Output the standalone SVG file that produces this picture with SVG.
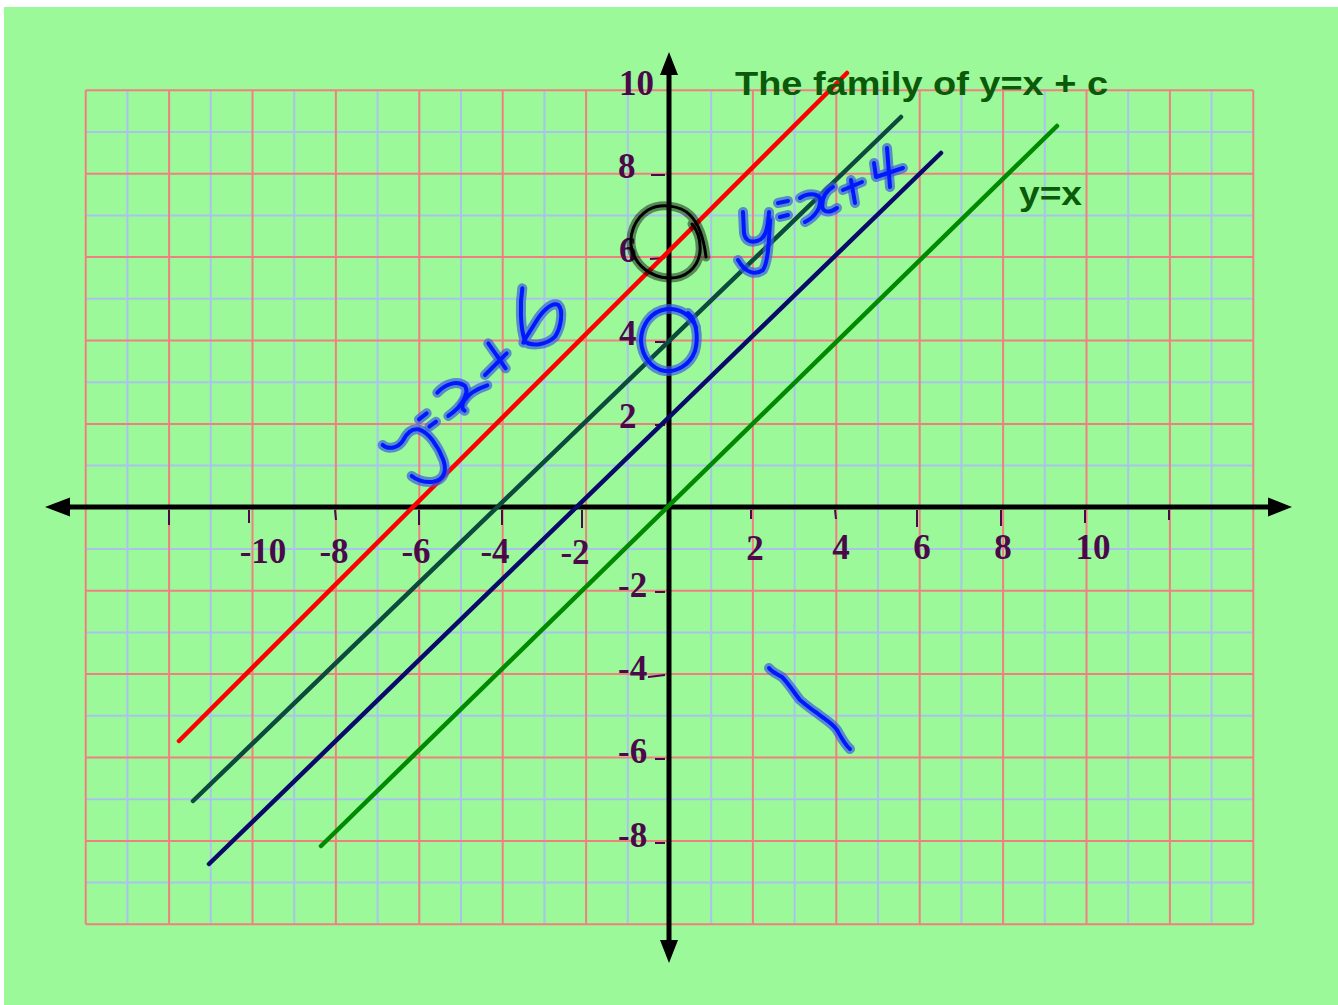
<svg xmlns="http://www.w3.org/2000/svg" width="1338" height="1005" viewBox="0 0 1338 1005">
<style>
.gb{stroke:#a8c4ec;stroke-width:2}
.gp{stroke:#f08080;stroke-width:2}
.ax{stroke:#000;stroke-width:5}
.tk{stroke:#4a0a4a;stroke-width:2}
.lb{font-family:"Liberation Serif",serif;font-weight:bold;font-size:35px;fill:#4a0a4a}
.ln{fill:none;stroke-width:4.5;stroke-linecap:round}
.hh{fill:none;stroke:#3a5ee0;stroke-opacity:0.7;stroke-width:10;stroke-linecap:round;stroke-linejoin:round}
.hc{fill:none;stroke:#0018ff;stroke-width:4;stroke-linecap:round;stroke-linejoin:round}
.hhz{fill:none;stroke:#3a5ee0;stroke-opacity:0.7;stroke-width:30;stroke-linecap:round;stroke-linejoin:round}
.hcz{fill:none;stroke:#0018ff;stroke-width:12;stroke-linecap:round;stroke-linejoin:round}
.tt{font-family:"Liberation Sans",Arial,sans-serif;font-weight:bold;fill:#0a5a0a}
</style>
<rect x="0" y="0" width="1338" height="1005" fill="#ffffff"/>
<rect x="4" y="7" width="1334" height="998" fill="#9cf99a"/>
<g id="grid">
<g class="gb">
<line x1="127.4" y1="90.3" x2="127.4" y2="924.3"/><line x1="210.8" y1="90.3" x2="210.8" y2="924.3"/><line x1="294.2" y1="90.3" x2="294.2" y2="924.3"/><line x1="377.6" y1="90.3" x2="377.6" y2="924.3"/><line x1="461" y1="90.3" x2="461" y2="924.3"/><line x1="544.4" y1="90.3" x2="544.4" y2="924.3"/><line x1="627.8" y1="90.3" x2="627.8" y2="924.3"/><line x1="711.2" y1="90.3" x2="711.2" y2="924.3"/><line x1="794.6" y1="90.3" x2="794.6" y2="924.3"/><line x1="878" y1="90.3" x2="878" y2="924.3"/><line x1="961.4" y1="90.3" x2="961.4" y2="924.3"/><line x1="1044.8" y1="90.3" x2="1044.8" y2="924.3"/><line x1="1128.2" y1="90.3" x2="1128.2" y2="924.3"/><line x1="1211.6" y1="90.3" x2="1211.6" y2="924.3"/>
<line x1="85.7" y1="132" x2="1253.3" y2="132"/><line x1="85.7" y1="215.4" x2="1253.3" y2="215.4"/><line x1="85.7" y1="298.8" x2="1253.3" y2="298.8"/><line x1="85.7" y1="382.2" x2="1253.3" y2="382.2"/><line x1="85.7" y1="465.6" x2="1253.3" y2="465.6"/><line x1="85.7" y1="549" x2="1253.3" y2="549"/><line x1="85.7" y1="632.4" x2="1253.3" y2="632.4"/><line x1="85.7" y1="715.8" x2="1253.3" y2="715.8"/><line x1="85.7" y1="799.2" x2="1253.3" y2="799.2"/><line x1="85.7" y1="882.6" x2="1253.3" y2="882.6"/>
</g>
<g class="gp">
<line x1="85.7" y1="90.3" x2="85.7" y2="924.3"/><line x1="169.1" y1="90.3" x2="169.1" y2="924.3"/><line x1="252.5" y1="90.3" x2="252.5" y2="924.3"/><line x1="335.9" y1="90.3" x2="335.9" y2="924.3"/><line x1="419.3" y1="90.3" x2="419.3" y2="924.3"/><line x1="502.7" y1="90.3" x2="502.7" y2="924.3"/><line x1="586.1" y1="90.3" x2="586.1" y2="924.3"/><line x1="669.5" y1="90.3" x2="669.5" y2="924.3"/><line x1="752.9" y1="90.3" x2="752.9" y2="924.3"/><line x1="836.3" y1="90.3" x2="836.3" y2="924.3"/><line x1="919.7" y1="90.3" x2="919.7" y2="924.3"/><line x1="1003.1" y1="90.3" x2="1003.1" y2="924.3"/><line x1="1086.5" y1="90.3" x2="1086.5" y2="924.3"/><line x1="1169.9" y1="90.3" x2="1169.9" y2="924.3"/><line x1="1253.3" y1="90.3" x2="1253.3" y2="924.3"/>
<line x1="85.7" y1="90.3" x2="1253.3" y2="90.3"/><line x1="85.7" y1="173.7" x2="1253.3" y2="173.7"/><line x1="85.7" y1="257.1" x2="1253.3" y2="257.1"/><line x1="85.7" y1="340.5" x2="1253.3" y2="340.5"/><line x1="85.7" y1="423.9" x2="1253.3" y2="423.9"/><line x1="85.7" y1="507.3" x2="1253.3" y2="507.3"/><line x1="85.7" y1="590.7" x2="1253.3" y2="590.7"/><line x1="85.7" y1="674.1" x2="1253.3" y2="674.1"/><line x1="85.7" y1="757.5" x2="1253.3" y2="757.5"/><line x1="85.7" y1="840.9" x2="1253.3" y2="840.9"/><line x1="85.7" y1="924.3" x2="1253.3" y2="924.3"/>
</g>
</g>
<g id="ticks" class="tk">
<line x1="169" y1="510" x2="169" y2="525"/><line x1="249" y1="510" x2="249" y2="523"/><line x1="335" y1="510" x2="336" y2="520"/><line x1="419" y1="510" x2="419" y2="525"/><line x1="502" y1="510" x2="502" y2="525"/><line x1="582" y1="510" x2="582" y2="528"/><line x1="751" y1="510" x2="751" y2="519"/><line x1="835" y1="510" x2="836" y2="519"/><line x1="917" y1="510" x2="917" y2="527"/><line x1="1001" y1="510" x2="1001" y2="526"/><line x1="1085" y1="510" x2="1085" y2="523"/><line x1="1169" y1="510" x2="1169" y2="520"/>
<line x1="651" y1="175" x2="665" y2="175"/><line x1="650" y1="259" x2="665" y2="258"/><line x1="655" y1="342" x2="665" y2="342"/><line x1="655" y1="425" x2="665" y2="425"/><line x1="655" y1="592" x2="665" y2="592"/><line x1="648" y1="677" x2="665" y2="675"/><line x1="655" y1="759" x2="665" y2="759"/><line x1="655" y1="843" x2="665" y2="843"/>
</g>
<g id="axes">
<line class="ax" x1="62" y1="507" x2="1275" y2="507"/>
<polygon points="45,507 70,497.5 70,516.5"/>
<polygon points="1292,507 1268,497.5 1268,516.5"/>
<line class="ax" x1="669" y1="70" x2="669" y2="945"/>
<polygon points="669,52 660,75 678,75"/>
<polygon points="669,963 660,940 678,940"/>
</g>
<g id="labels" class="lb">
<text x="263" y="563" text-anchor="middle">-10</text>
<text x="334" y="563" text-anchor="middle">-8</text>
<text x="416" y="563" text-anchor="middle">-6</text>
<text x="495" y="563" text-anchor="middle">-4</text>
<text x="575" y="564" text-anchor="middle">-2</text>
<text x="755" y="560" text-anchor="middle">2</text>
<text x="841" y="559" text-anchor="middle">4</text>
<text x="922" y="559" text-anchor="middle">6</text>
<text x="1003" y="559" text-anchor="middle">8</text>
<text x="1093" y="559" text-anchor="middle">10</text>
<text x="619" y="95">10</text>
<text x="618" y="178">8</text>
<text x="619" y="262">6</text>
<text x="619" y="345">4</text>
<text x="619" y="428">2</text>
<text x="618" y="597">-2</text>
<text x="618" y="680">-4</text>
<text x="618" y="763">-6</text>
<text x="618" y="847">-8</text>
</g>
<g id="lines">
<line class="ln" stroke="#ff0000" x1="179" y1="741" x2="847" y2="73"/>
<line class="ln" stroke="#0b4a3c" x1="193" y1="801" x2="901" y2="117"/>
<line class="ln" stroke="#0a0a6a" x1="209" y1="864" x2="941" y2="153"/>
<line class="ln" stroke="#008a00" x1="321" y1="846" x2="1057" y2="126"/>
</g>
<g id="title">
<text class="tt" x="735" y="95" font-size="34" textLength="373" lengthAdjust="spacingAndGlyphs">The family of y=x + c</text>
<text class="tt" x="1019" y="205" font-size="34" textLength="63" lengthAdjust="spacingAndGlyphs">y=x</text>
</g>
<g id="circle6">
<path d="M706,257 C704,240 700,225 690,215 C680,205 660,203 648,210 C635,218 628,235 632,250 C636,265 650,277 668,278 C685,279 698,268 700,252 C701,240 697,230 692,224" fill="none" stroke="#000" stroke-opacity="0.45" stroke-width="9" stroke-linecap="round"/>
<path d="M706,257 C704,240 700,225 690,215 C680,205 660,203 648,210 C635,218 628,235 632,250 C636,265 650,277 668,278 C685,279 698,268 700,252 C701,240 697,230 692,224" fill="none" stroke="#000" stroke-width="3" stroke-linecap="round"/>
</g>
<g id="circle4">
<path class="hh" d="M688,313 C696,320 699,336 695,351 C690,365 677,372 665,371 C651,369 642,356 641,341 C641,325 651,311 667,309 C679,308 690,314 696,327"/>
<path class="hc" d="M688,313 C696,320 699,336 695,351 C690,365 677,372 665,371 C651,369 642,356 641,341 C641,325 651,311 667,309 C679,308 690,314 696,327"/>
</g>
<g id="label-x6" transform="translate(360,280) scale(0.3333)">
<g class="hhz">
<path d="M68,495 C85,510 115,505 130,480 C140,460 155,445 175,448 C205,455 235,500 250,540 C262,575 250,600 220,605 C195,608 170,600 155,588"/>
<path d="M177,418 L200,400"/><path d="M208,440 L228,425"/>
<path d="M232,338 C255,312 290,300 315,318 C330,340 305,380 265,408"/>
<path d="M382,316 C355,325 325,342 312,362 C304,376 306,388 314,392"/>
<path d="M385,190 L437,265"/><path d="M375,285 L440,220"/>
<path d="M487,25 C480,70 480,140 495,185 C515,200 560,195 585,170 C605,140 610,90 595,75 C575,65 545,95 525,130 C510,155 495,175 490,188"/>
</g>
<g class="hcz">
<path d="M68,495 C85,510 115,505 130,480 C140,460 155,445 175,448 C205,455 235,500 250,540 C262,575 250,600 220,605 C195,608 170,600 155,588"/>
<path d="M177,418 L200,400"/><path d="M208,440 L228,425"/>
<path d="M232,338 C255,312 290,300 315,318 C330,340 305,380 265,408"/>
<path d="M382,316 C355,325 325,342 312,362 C304,376 306,388 314,392"/>
<path d="M385,190 L437,265"/><path d="M375,285 L440,220"/>
<path d="M487,25 C480,70 480,140 495,185 C515,200 560,195 585,170 C605,140 610,90 595,75 C575,65 545,95 525,130 C510,155 495,175 490,188"/>
</g>
</g>
<g id="label-x4">
<g class="hh">
<path d="M743,212 L744,233 C745,240 750,243 757,241 C765,239 768,230 769,212"/>
<path d="M770,220 C769,243 768,262 763,270 C756,275 746,274 738,260"/>
<path d="M778,203 L788,201"/><path d="M780,217 L788,215"/>
<path d="M800,198 C807,193 817,193 820,198 C822,207 815,217 805,222"/>
<path d="M833,187 C827,190 822,197 822,206 C823,213 830,213 837,208"/>
<path d="M843,190 L862,182"/><path d="M851,180 L855,203"/>
<path d="M874,163 L876,177 L903,168"/><path d="M887,148 L890,187"/>
</g>
<g class="hc">
<path d="M743,212 L744,233 C745,240 750,243 757,241 C765,239 768,230 769,212"/>
<path d="M770,220 C769,243 768,262 763,270 C756,275 746,274 738,260"/>
<path d="M778,203 L788,201"/><path d="M780,217 L788,215"/>
<path d="M800,198 C807,193 817,193 820,198 C822,207 815,217 805,222"/>
<path d="M833,187 C827,190 822,197 822,206 C823,213 830,213 837,208"/>
<path d="M843,190 L862,182"/><path d="M851,180 L855,203"/>
<path d="M874,163 L876,177 L903,168"/><path d="M887,148 L890,187"/>
</g>
</g>
<g id="mark">
<path class="hh" d="M769,668 C772,672 777,674 782,677 C789,684 795,694 800,700 C806,705 812,710 817,713 C824,719 831,722 837,730 C841,737 845,745 850,749"/>
<path class="hc" d="M769,668 C772,672 777,674 782,677 C789,684 795,694 800,700 C806,705 812,710 817,713 C824,719 831,722 837,730 C841,737 845,745 850,749"/>
</g>
</svg>
